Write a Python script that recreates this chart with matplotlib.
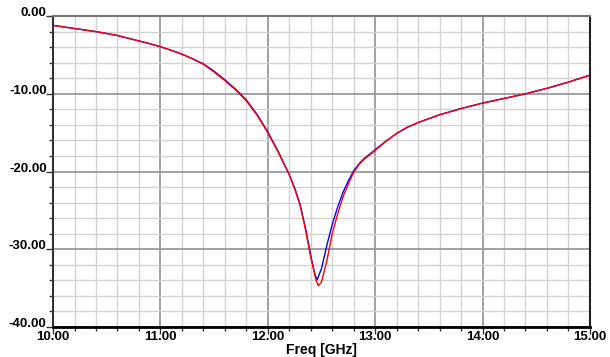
import matplotlib.pyplot as plt
from matplotlib.ticker import MultipleLocator
import matplotlib.transforms as mtransforms

# red trace (drawn on top)
freq_red = [10.0, 10.1, 10.2, 10.3, 10.4, 10.5, 10.6, 10.7, 10.8, 10.9, 11.0,
            11.1, 11.2, 11.3, 11.4, 11.5, 11.6, 11.7, 11.8, 11.9, 12.0, 12.1,
            12.2, 12.25, 12.3, 12.35, 12.4, 12.45, 12.47, 12.5, 12.55, 12.6,
            12.65, 12.7, 12.75, 12.8, 12.85, 12.9, 13.0, 13.1, 13.2, 13.3, 13.4,
            13.6, 13.8, 14.0, 14.2, 14.4, 14.6, 14.8, 15.0]
db_red = [-1.2, -1.4, -1.6, -1.8, -2.0, -2.25, -2.5, -2.85, -3.2, -3.55, -3.95,
          -4.4, -4.9, -5.5, -6.2, -7.2, -8.3, -9.5, -10.9, -12.75, -15.0, -17.6,
          -20.4, -22.2, -24.3, -27.4, -31.0, -34.0, -34.7, -34.2, -31.5, -28.0,
          -25.5, -23.3, -21.6, -20.1, -19.1, -18.4, -17.3, -16.1, -15.1, -14.3,
          -13.7, -12.7, -11.9, -11.2, -10.6, -10.0, -9.3, -8.5, -7.6]

# blue trace (mostly hidden under the red one)
freq_blue = [10.0, 10.1, 10.2, 10.3, 10.4, 10.5, 10.6, 10.7, 10.8, 10.9, 11.0,
             11.1, 11.2, 11.3, 11.4, 11.5, 11.6, 11.7, 11.8, 11.9, 12.0, 12.1,
             12.2, 12.25, 12.3, 12.35, 12.4, 12.44, 12.46, 12.5, 12.55, 12.6,
             12.65, 12.7, 12.75, 12.8, 12.85, 12.9, 13.0, 13.1, 13.2, 13.3, 13.4,
             13.6, 13.8, 14.0, 14.2, 14.4, 14.6, 14.8, 15.0]
db_blue = [-1.2, -1.4, -1.6, -1.8, -2.0, -2.25, -2.5, -2.85, -3.2, -3.55, -3.95,
           -4.4, -4.9, -5.5, -6.15, -7.1, -8.2, -9.4, -10.8, -12.65, -14.9, -17.5,
           -20.4, -22.1, -24.2, -27.2, -30.8, -33.3, -33.9, -32.5, -29.5, -26.8,
           -24.6, -22.7, -21.2, -19.9, -19.0, -18.3, -17.2, -16.1, -15.1, -14.3,
           -13.7, -12.7, -11.9, -11.2, -10.6, -10.0, -9.3, -8.5, -7.6]

xticks = [10.0, 11.0, 12.0, 13.0, 14.0, 15.0]
yticks = [0.0, -10.0, -20.0, -30.0, -40.0]

plt.rcParams['font.family'] = ['Liberation Sans', 'DejaVu Sans']

fig = plt.figure(figsize=(6.10, 3.57), dpi=100)
ax = fig.add_axes([0.087, 0.084, 0.880, 0.871])

ax.plot(freq_blue, db_blue, color='#0000ff', lw=1.0)
ax.plot(freq_red, db_red, color='#ff0000', lw=1.0)

ax.set_xlim(10, 15)
ax.set_ylim(-40, 0)
ax.xaxis.set_major_locator(MultipleLocator(1.0))
ax.xaxis.set_minor_locator(MultipleLocator(0.2))
ax.yaxis.set_major_locator(MultipleLocator(10.0))
ax.yaxis.set_minor_locator(MultipleLocator(2.0))

ax.grid(which='major', color='#9a9a9a', lw=1.3)
ax.grid(which='minor', color='#d2d2d2', lw=1.0)
ax.set_axisbelow(True)

ax.tick_params(which='both', direction='out', color='#333333')
ax.tick_params(which='major', length=5, width=1)
ax.tick_params(which='minor', length=3, width=1)
ax.set_xticklabels([])
ax.set_yticklabels([])

# tick labels: y labels sit just above their tick, x labels centered below
ytrans = mtransforms.blended_transform_factory(ax.transAxes, ax.transData)
for v in yticks:
    ax.text(-0.012, v, '%.2f' % v, transform=ytrans, ha='right', va='baseline',
            fontsize=9.5, fontweight='bold')
xtrans = mtransforms.blended_transform_factory(ax.transData, ax.transAxes)
for v in xticks:
    ax.text(v, -0.012, '%.2f' % v, transform=xtrans, ha='center', va='top',
            fontsize=9.5, fontweight='bold')

ax.text(0.5, -0.05, 'Freq [GHz]', transform=ax.transAxes, ha='center',
        va='top', fontsize=10, fontweight='bold')

ax.spines['left'].set_color('#333333')
ax.spines['left'].set_linewidth(1.5)
ax.spines['bottom'].set_color('black')
ax.spines['bottom'].set_linewidth(2)
ax.spines['top'].set_color('#777777')
ax.spines['top'].set_linewidth(1.5)
ax.spines['right'].set_color('#222222')
ax.spines['right'].set_linewidth(1.5)

fig.savefig('out.png', dpi=100)
